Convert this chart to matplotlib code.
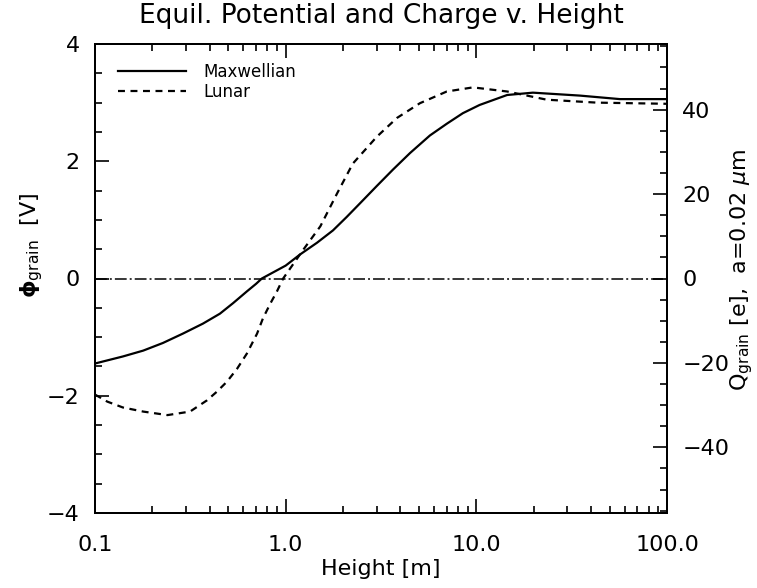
import numpy as np
import matplotlib
matplotlib.use("Agg")
import matplotlib.pyplot as plt
from matplotlib.ticker import MultipleLocator, LogLocator, NullFormatter

plt.rcParams["lines.scale_dashes"] = False

# Data
height_max = [0.1, 0.14, 0.179, 0.227, 0.289, 0.368, 0.452, 0.53, 0.626, 0.7, 0.75,
              1.0, 1.19, 1.46, 1.77, 2.09, 2.45, 3.01, 3.66, 4.49, 5.71, 7.0, 8.5,
              10.4, 14.5, 19.8, 34.9, 56.6, 100]
phi_max = [-1.45, -1.33, -1.23, -1.10, -0.94, -0.77, -0.60, -0.42, -0.22, -0.09, 0.0,
           0.22, 0.41, 0.61, 0.82, 1.05, 1.28, 1.58, 1.86, 2.14, 2.44, 2.64, 2.82,
           2.96, 3.13, 3.17, 3.12, 3.06, 3.06]

height_lun = [0.1, 0.116, 0.14, 0.179, 0.24, 0.315, 0.386, 0.436, 0.492, 0.556, 0.626,
              0.708, 0.76, 0.83, 0.9, 0.97, 1.23, 1.52, 1.86, 2.25, 3.01, 3.84, 5.06,
              7.0, 9.6, 14.5, 23.4, 42.8, 100]
phi_lun = [-1.98, -2.1, -2.2, -2.27, -2.33, -2.27, -2.08, -1.93, -1.76, -1.54, -1.28,
           -0.94, -0.68, -0.43, -0.22, 0.0, 0.48, 0.89, 1.45, 1.96, 2.42, 2.74, 2.99,
           3.19, 3.26, 3.19, 3.05, 3.0, 2.98]

x_ticks = [0.1, 1.0, 10.0, 100.0]
x_ticklabels = ["0.1", "1.0", "10.0", "100.0"]
left_ticks = [-4, -2, 0, 2, 4]
right_ticks = [-40, -20, 0, 20, 40]
charge_per_volt = 13.89  # e per V for a=0.02 um

fig = plt.figure(figsize=(7.57, 5.88), dpi=100)
ax = fig.add_axes([95/757, 1-513/588, (667-95)/757, (513-44)/588])

ax.plot(height_max, phi_max, color="black", lw=1.6, label="Maxwellian")
ax.plot(height_lun, phi_lun, color="black", lw=1.6, dashes=(5, 4), label="Lunar")
ax.axhline(0, color="black", lw=1.1, dashes=(8.5, 2.2, 1.4, 2.2))

ax.set_xscale("log")
ax.set_xlim(0.1, 100)
ax.set_ylim(-4, 4)
ax.set_xticks(x_ticks)
ax.set_xticklabels(x_ticklabels)
ax.xaxis.set_minor_locator(LogLocator(base=10, subs=np.arange(2, 10)))
ax.xaxis.set_minor_formatter(NullFormatter())
ax.set_yticks(left_ticks)
ax.set_yticklabels([str(t).replace("-", "\u2212") for t in left_ticks])
ax.yaxis.set_minor_locator(MultipleLocator(0.5))

ax.tick_params(which="both", direction="in", top=True, right=False, width=1.2,
               labelsize=16, colors="black")
ax.tick_params(which="major", length=10)
ax.tick_params(which="minor", length=5)
ax.tick_params(axis="x", which="major", pad=16)
ax.tick_params(axis="y", which="major", pad=11)
for s in ax.spines.values():
    s.set_linewidth(1.4)

ax.set_xlabel("Height [m]", fontsize=16)
ax.xaxis.set_label_coords(0.5, -0.098)
ax.set_ylabel(r"$\mathbf{\phi}_{\rm grain}$  [V]", fontsize=16)
ax.yaxis.set_label_coords(-0.087, 0.571)
ax.set_title("Equil. Potential and Charge v. Height", fontsize=19, pad=15)

leg = ax.legend(loc="upper left", frameon=False, fontsize=12, handlelength=4.1,
                handletextpad=1.0, labelspacing=0.15, borderaxespad=0.3,
                bbox_to_anchor=(0.02, 0.985))

ax2 = ax.twinx()
ax2.set_ylim(-4*charge_per_volt, 4*charge_per_volt)
ax2.set_yticks(right_ticks)
ax2.set_yticklabels([str(t).replace("-", "\u2212") for t in right_ticks])
ax2.yaxis.set_minor_locator(MultipleLocator(5))
ax2.tick_params(which="both", direction="in", width=1.2, labelsize=16)
ax2.tick_params(which="major", length=10, pad=11)
ax2.tick_params(which="minor", length=5)
ax2.set_ylabel(r"Q$_{\rm grain}$ [e],  a=0.02 $\mu$m", fontsize=16)
ax2.yaxis.set_label_coords(1.107, 0.518)
for s in ax2.spines.values():
    s.set_linewidth(1.4)

fig.savefig("out.png", dpi=100)
